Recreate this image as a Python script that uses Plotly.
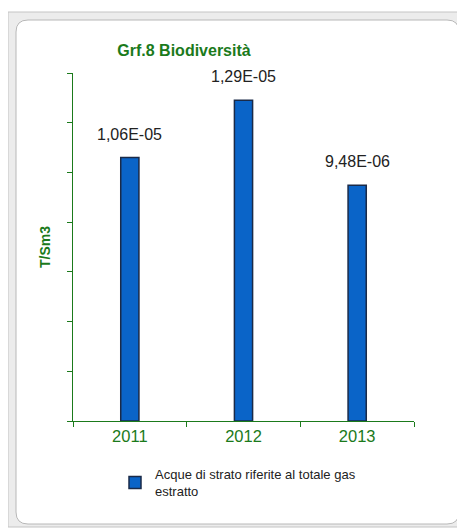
import plotly.graph_objects as go

years = ["2011", "2012", "2013"]
values = [1.06e-05, 1.29e-05, 9.48e-06]
series_name = "Acque di strato riferite al totale gas<br>estratto"
title_text = "Grf.8 Biodiversità"
y_title = "T/Sm3"

labels = [f"{v:.2E}".replace(".", ",") for v in values]

OFF = 8  # default body margin of the html page
W, H = 465 - OFF, 528 - OFF
L, R, T, B = 73, 414, 73, 421  # plot area in page pixels
GREEN = "#1b7a1b"
FONT = "Arial, Liberation Sans, sans-serif"


def px(x):
    return (x - L) / (R - L)


def py(y):
    return (B - y) / (B - T)


def rounded(x0, y0, x1, y1, r):
    X0, X1 = px(x0), px(x1)
    Y0, Y1 = py(y0), py(y1)
    rx = r / (R - L)
    ry = r / (B - T)
    return (f"M{X0+rx},{Y0} L{X1-rx},{Y0} Q{X1},{Y0} {X1},{Y0-ry} "
            f"L{X1},{Y1+ry} Q{X1},{Y1} {X1-rx},{Y1} L{X0+rx},{Y1} "
            f"Q{X0},{Y1} {X0},{Y1+ry} L{X0},{Y0-ry} Q{X0},{Y0} {X0+rx},{Y0} Z")


fig = go.Figure()
fig.add_trace(go.Bar(
    x=years, y=values, name=series_name, width=0.16,
    marker=dict(color="#0a64c8", line=dict(color="#1a2a48", width=1.5)),
    showlegend=True,
))

for i, (v, lab) in enumerate(zip(values, labels)):
    fig.add_annotation(x=i, y=v, xref="x", yref="y", text=lab, showarrow=False,
                       yanchor="bottom", yshift=13,
                       font=dict(family=FONT, size=16, color="#222222"))

fig.update_layout(
    width=W, height=H,
    margin=dict(l=L - OFF, r=465 - R, t=T - OFF, b=528 - B, pad=0),
    paper_bgcolor="white", plot_bgcolor="white",
    font=dict(family=FONT),
    title=dict(text=f"<b>{title_text}</b>", x=px(184), xref="paper", xanchor="center",
               y=1 - (50 - OFF) / H, yref="container", yanchor="middle",
               font=dict(family=FONT, size=16, color=GREEN)),
    showlegend=True,
    legend=dict(orientation="h", x=px(115), xanchor="left", y=py(459), yanchor="top",
                font=dict(family=FONT, size=13, color="#222222"), bgcolor="rgba(0,0,0,0)",
                itemwidth=30),
    shapes=[
        dict(type="rect", xref="paper", yref="paper", x0=px(8), y0=py(12), x1=px(464), y1=py(527),
             fillcolor="#ececec", line=dict(color="#c4c4c4", width=1), layer="below"),
        dict(type="path", xref="paper", yref="paper", path=rounded(16, 20, 459, 524, 12),
             fillcolor="white", line=dict(color="#b8b8b8", width=1), layer="below"),
    ],
)
fig.update_xaxes(type="category", showline=True, linecolor=GREEN, linewidth=1,
                 ticks="outside", tickson="boundaries", ticklen=5, tickcolor=GREEN,
                 tickfont=dict(family=FONT, size=16.5, color=GREEN), showgrid=False,
                 range=[-0.5, 2.5])
fig.update_yaxes(range=[0, 1.4e-05], dtick=2e-06, showline=True, linecolor=GREEN, linewidth=1,
                 ticks="outside", ticklen=5, tickcolor=GREEN, showticklabels=False,
                 showgrid=False, zeroline=False,
                 title=dict(text=f"<b>{y_title}</b>", standoff=13,
                            font=dict(family=FONT, size=14, color=GREEN)))

fig.write_html("out.html")
